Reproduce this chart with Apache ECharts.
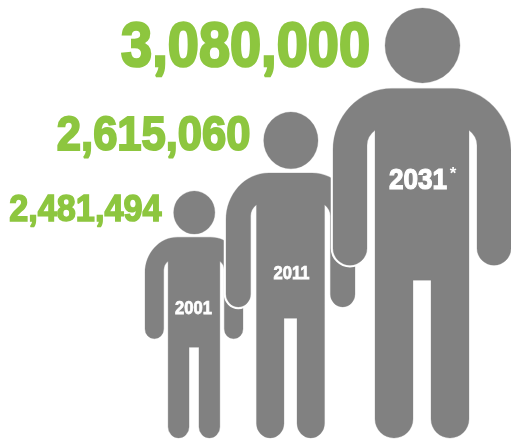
<!DOCTYPE html>
<html>
<head>
<meta charset="utf-8">
<style>html,body{margin:0;padding:0;background:#fff}#c{width:511px;height:440px}</style>
<script src="https://cdn.jsdelivr.net/npm/echarts@6/dist/echarts.min.js"></script>
</head>
<body>
<div id="c"></div>
<script>
const years = ['2001', '2011', '2031'];
const yearNotes = ['', '', '*'];
const population = [2481494, 2615060, 3080000];

const GREEN = '#8dc63f', GRAY = '#818181';
const PERSON = 'M52 37A37.5 37.5 0 1 0 127 37A37.5 37.5 0 1 0 52 37Z' +
  'M59 80H119C152 80 178 108 178 142V240A17 17 0 0 1 144 240V137Q144 128 136 122V411A19 19 0 0 1 98 411V272H80V411A19 19 0 0 1 42 411V122Q34 128 34 137V240A17 17 0 0 1 0 240V142C0 108 26 80 59 80Z';
// Pictogram layout: the figures are illustrative, not to scale with the values.
const layout = [
  {x0: 145, x1: 243, top: 191, bottom: 438, numRight: 161.5, numY: 211, numFont: 37, numScale: .925, yearX: 193.5, yearY: 309, yearFont: 18, yearScale: .92},
  {x0: 226, x1: 355, top: 112, bottom: 438, numRight: 250.5, numY: 136.5, numFont: 48, numScale: .907, yearX: 291.5, yearY: 274, yearFont: 18, yearScale: .92},
  {x0: 333, x1: 511, top: 8, bottom: 438, numRight: 370, numY: 49, numFont: 63, numScale: .888, yearX: 418, yearY: 181, yearFont: 29, yearScale: .9}
];

const FONT = '"Liberation Sans", Arial, sans-serif';
function renderItem(params, api) {
  const i = api.value(0), L = layout[i];
  const tl = api.coord([L.x0, L.top]), br = api.coord([L.x1, L.bottom]);
  const shape = {pathData: PERSON, layout: 'cover', x: tl[0], y: tl[1], width: br[0] - tl[0], height: br[1] - tl[1]};
  const num = api.coord([L.numRight, L.numY]), yr = api.coord([L.yearX, L.yearY]);
  const kids = [
    {type: 'path', shape, style: {fill: 'none', stroke: '#fff', lineWidth: 4.5, lineJoin: 'round'}},
    {type: 'path', shape, style: {fill: GRAY, stroke: GRAY, lineWidth: .3}},
    {type: 'text', x: num[0], y: num[1], scaleX: L.numScale,
      style: {text: api.value(1).toLocaleString('en-US'), x: 0, y: 0, align: 'right', verticalAlign: 'middle',
        font: 'bold ' + L.numFont + 'px ' + FONT, fill: GREEN, stroke: GREEN, lineWidth: L.numFont / 24, lineJoin: 'round'}},
    {type: 'text', x: yr[0], y: yr[1], scaleX: L.yearScale,
      style: {text: years[i], x: 0, y: 0, align: 'center', verticalAlign: 'middle',
        font: 'bold ' + L.yearFont + 'px ' + FONT, fill: '#fff', stroke: '#fff', lineWidth: L.yearFont / 24, lineJoin: 'round'}}
  ];
  if (yearNotes[i]) {
    const half = years[i].length * .556 * L.yearFont * L.yearScale / 2;
    kids.push({type: 'text', x: yr[0] + half + 6, y: yr[1] - 7,
      style: {text: yearNotes[i], x: 0, y: 0, align: 'center', verticalAlign: 'middle',
        font: 'bold 17px ' + FONT, fill: '#fff'}});
  }
  return {type: 'group', children: kids};
}

const chart = echarts.init(document.getElementById('c'), null, {renderer: 'canvas'});
chart.setOption({
  animation: false,
  backgroundColor: '#fff',
  grid: {left: 0, right: 0, top: 0, bottom: 0},
  xAxis: {type: 'value', min: 0, max: 511, show: false},
  yAxis: {type: 'value', min: 0, max: 440, inverse: true, show: false},
  series: [{
    type: 'custom',
    coordinateSystem: 'cartesian2d',
    renderItem,
    clip: false,
    encode: {x: 0, y: 1},
    data: population.map((v, i) => [i, v])
  }]
});
</script>
</body>
</html>
